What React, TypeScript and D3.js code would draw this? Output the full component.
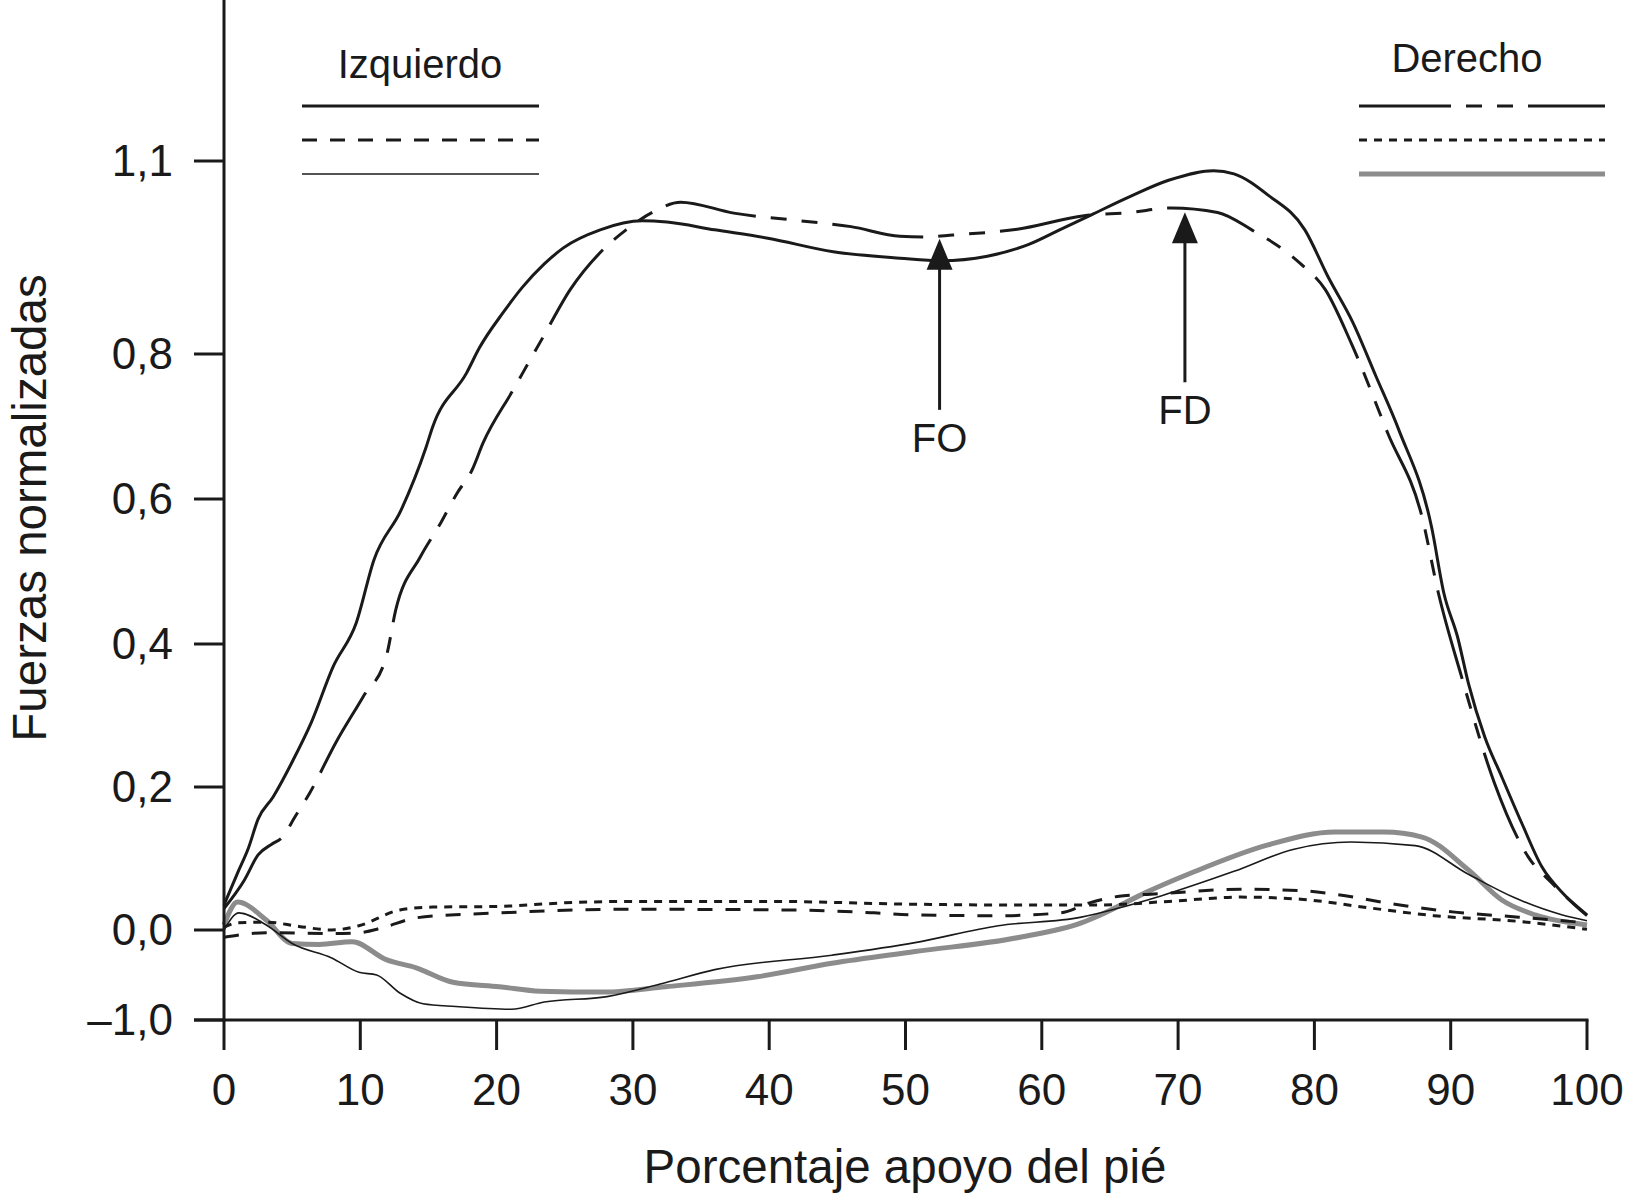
import React, { useMemo } from "react";
import * as d3 from "d3";

type Pt = [number, number];

// % of foot contact on x, normalised force on y
const izqTotal: Pt[] = [
  [0, 0.035], [1, 0.08], [1.8, 0.115], [2.5, 0.155], [3.6, 0.186], [5, 0.235],
  [6.4, 0.29], [8, 0.368], [9.7, 0.429], [11, 0.516], [13, 0.585], [14.8, 0.67],
  [15.3, 0.699], [17.8, 0.774], [18.75, 0.81], [20.5, 0.865], [21.9, 0.904],
  [23.5, 0.94], [24.9, 0.965], [27.6, 0.993], [30.7, 1.007], [32.5, 1.005],
  [36, 0.993], [39.9, 0.98], [44.7, 0.959], [49.6, 0.949], [52.6, 0.945],
  [56, 0.952], [59, 0.97], [61.5, 0.995], [63.6, 1.016], [66.5, 1.045],
  [69.3, 1.07], [72.6, 1.085], [74.1, 1.08], [76.6, 1.047], [79.3, 0.993],
  [81, 0.92], [82.8, 0.85], [84.5, 0.77], [86.2, 0.695], [88.6, 0.561],
  [89.5, 0.47], [90.5, 0.41], [91.3, 0.345], [92.5, 0.27], [93.75, 0.214],
  [95.2, 0.15], [96.7, 0.088], [98.3, 0.05], [100, 0.02],
];

const derTotal: Pt[] = [
  [0, 0.03], [1.5, 0.07], [2.5, 0.105], [3.5, 0.12], [4.3, 0.13], [5.2, 0.158],
  [6.3, 0.192], [8.2, 0.262], [10.2, 0.326], [11.9, 0.382], [12.6, 0.447],
  [14.4, 0.52], [15.9, 0.567], [17.1, 0.608], [18.2, 0.64], [19, 0.677],
  [21.2, 0.75], [23.4, 0.826], [25.4, 0.9], [27.8, 0.962], [29.5, 0.993],
  [31.5, 1.021], [33.5, 1.036], [37.4, 1.019], [42.3, 1.007], [46, 0.998],
  [49.6, 0.983], [51.3, 0.982], [53.5, 0.985], [58.2, 0.994], [63.1, 1.015],
  [66.5, 1.02], [69.5, 1.027], [72.9, 1.02], [75.4, 0.993], [79, 0.94],
  [80.8, 0.9], [82.7, 0.817], [85.4, 0.69], [87.9, 0.575], [89.1, 0.47],
  [90.8, 0.354], [93.2, 0.206], [95.7, 0.102], [97.4, 0.066], [100, 0.021],
];

const izqDashed: Pt[] = [
  [0, -0.008], [3.1, -0.003], [7.9, -0.004], [9.9, -0.003], [11.6, 0.003],
  [14.1, 0.017], [17.8, 0.022], [20.2, 0.024], [29.4, 0.029], [41.6, 0.028],
  [47.7, 0.024], [50.7, 0.021], [56.8, 0.02], [61.4, 0.024], [63.5, 0.038],
  [66, 0.048], [68, 0.05], [74.6, 0.057], [79, 0.055], [81.5, 0.05],
  [85.9, 0.036], [90.3, 0.025], [95, 0.018], [100, 0.01],
];

const derDotted: Pt[] = [
  [0, 0.004], [1, 0.01], [3.1, 0.011], [5.5, 0.005], [7.9, 0], [9.9, 0.006],
  [12.9, 0.028], [15.3, 0.032], [20.2, 0.033], [25, 0.038], [30, 0.04],
  [40, 0.04], [50.7, 0.036], [57, 0.035], [64.3, 0.035], [69.3, 0.04],
  [74.6, 0.046], [79, 0.043], [84, 0.031], [88.8, 0.02], [95, 0.012],
  [100, 0.001],
];

const izqThin: Pt[] = [
  [0, 0], [1.1, 0.024], [3.1, 0.007], [5, -0.015], [7.9, -0.031],
  [9.9, -0.047], [11.2, -0.05], [12.9, -0.07], [14.6, -0.082], [17, -0.085],
  [21.1, -0.088], [23.5, -0.08], [28.1, -0.074], [32, -0.06], [36, -0.044],
  [44.6, -0.028], [50.7, -0.014], [56.8, 0.006], [62.9, 0.018], [65.5, 0.03],
  [68.8, 0.048], [74.1, 0.082], [78.5, 0.113], [82.7, 0.123], [87.4, 0.118],
  [91.3, 0.078], [94.7, 0.045], [98.2, 0.021], [100, 0.013],
];

const derGrey: Pt[] = [
  [0, 0.007], [1, 0.039], [3.1, 0.014], [5, -0.015], [7, -0.016],
  [9.4, -0.013], [11.9, -0.033], [14.1, -0.042], [16.8, -0.058],
  [20.2, -0.063], [23.2, -0.068], [27.9, -0.069], [32.4, -0.063],
  [39.1, -0.052], [44.6, -0.037], [50.7, -0.024], [58.4, -0.008],
  [62.9, 0.01], [64.3, 0.021], [67.7, 0.053], [71, 0.08], [76.6, 0.119],
  [81.5, 0.137], [85.1, 0.137], [87.9, 0.13], [91.3, 0.084], [93.75, 0.042],
  [96.2, 0.021], [100, 0.007],
];

const xTicks = [0, 10, 20, 30, 40, 50, 60, 70, 80, 90, 100];
const yTickValues = [-0.1, 0, 0.2, 0.4, 0.6, 0.8, 1.1];
const yTickLabels = ["\u20131,0", "0,0", "0,2", "0,4", "0,6", "0,8", "1,1"];

// arrows: label, % position, value where the shaft ends
const arrowLabels = ["FO", "FD"];
const arrowX = [52.5, 70.5];
const arrowBase = [0.723, 0.761];

const INK = "#1a1a1a";
const GREY = "#8c8c8c";
const FONT = "'Liberation Sans', Arial, Helvetica, sans-serif";

interface Series {
  data: Pt[];
  stroke: string;
  width: number;
  dash?: string;
}

const S_IZQ_TOTAL: Series = { data: izqTotal, stroke: INK, width: 3 };
const S_IZQ_DASH: Series = { data: izqDashed, stroke: INK, width: 3, dash: "15,13" };
const S_IZQ_THIN: Series = { data: izqThin, stroke: INK, width: 1.6 };
const S_DER_TOTAL: Series = { data: derTotal, stroke: INK, width: 3, dash: "92,15,16,15,16,15" };
const S_DER_DOT: Series = { data: derDotted, stroke: INK, width: 3, dash: "8,7" };
const S_DER_GREY: Series = { data: derGrey, stroke: GREY, width: 5 };

const App: React.FC = () => {
  const width = 1625;
  const height = 1197;

  const x = useMemo(() => d3.scaleLinear().domain([0, 100]).range([224, 1587]), []);
  // the printed axis is not evenly spaced, so the scale is piecewise
  const y = useMemo(
    () => d3.scaleLinear().domain(yTickValues).range([1020, 930, 787, 644, 499, 354, 161]),
    []
  );

  const line = d3
    .line<Pt>()
    .x((d) => x(d[0]))
    .y((d) => y(d[1]))
    .curve(d3.curveMonotoneX);

  // where the right-foot total curve sits at a given %
  const derAt = d3
    .scaleLinear()
    .domain(derTotal.map((d) => d[0]))
    .range(derTotal.map((d) => d[1]));

  const drawOrder = [S_DER_GREY, S_IZQ_THIN, S_IZQ_DASH, S_DER_DOT, S_DER_TOTAL, S_IZQ_TOTAL];
  const legendLeft = [S_IZQ_TOTAL, S_IZQ_DASH, S_IZQ_THIN];
  const legendRight = [S_DER_TOTAL, S_DER_DOT, S_DER_GREY];
  const legendRows = [106, 140, 174];

  return (
    <>
      <style>{`body{margin:0}`}</style>
      <svg
        width={width}
        height={height}
        style={{ display: "block", background: "#fff" }}
        fontFamily={FONT}
      >
        {/* curves */}
        {drawOrder.map((s, i) => (
          <path
            key={`s-${i}`}
            d={line(s.data) || ""}
            fill="none"
            stroke={s.stroke}
            strokeWidth={s.width}
            strokeDasharray={s.dash}
            strokeLinejoin="round"
          />
        ))}

        {/* y axis */}
        <line x1={224} x2={224} y1={0} y2={1021.5} stroke={INK} strokeWidth={3} />
        {yTickValues.map((v, i) => (
          <g key={`yt-${i}`}>
            <line x1={194} x2={224} y1={y(v)} y2={y(v)} stroke={INK} strokeWidth={3} />
            <text
              x={173}
              y={y(v)}
              dy="0.33em"
              textAnchor="end"
              fontSize={44}
              fill={INK}
            >
              {yTickLabels[i]}
            </text>
          </g>
        ))}

        {/* x axis */}
        <line x1={194} x2={x(100) + 1.5} y1={1020} y2={1020} stroke={INK} strokeWidth={3} />
        {xTicks.map((t) => (
          <g key={`xt-${t}`}>
            <line x1={x(t)} x2={x(t)} y1={1020} y2={1050} stroke={INK} strokeWidth={3} />
            <text x={x(t)} y={1105} textAnchor="middle" fontSize={44} fill={INK}>
              {t}
            </text>
          </g>
        ))}

        {/* axis titles */}
        <text x={905} y={1183} textAnchor="middle" fontSize={47.5} fill={INK}>
          Porcentaje apoyo del pié
        </text>
        <text
          transform="translate(46,508) rotate(-90)"
          textAnchor="middle"
          fontSize={47.5}
          fill={INK}
        >
          Fuerzas normalizadas
        </text>

        {/* FO / FD arrows */}
        {arrowLabels.map((lab, i) => {
          const ax = x(arrowX[i]);
          const tip = y(derAt(arrowX[i])) + 3;
          const bottom = y(arrowBase[i]);
          return (
            <g key={`ar-${lab}`}>
              <line x1={ax} x2={ax} y1={tip + 20} y2={bottom} stroke={INK} strokeWidth={3} />
              <path
                d={`M${ax},${tip} L${ax - 13},${tip + 31} L${ax + 13},${tip + 31} Z`}
                fill={INK}
              />
              <text x={ax} y={bottom + 42} textAnchor="middle" fontSize={40} fill={INK}>
                {lab}
              </text>
            </g>
          );
        })}

        {/* legends */}
        <text x={420} y={78} textAnchor="middle" fontSize={40} fill={INK}>
          Izquierdo
        </text>
        {legendLeft.map((s, i) => (
          <line
            key={`ll-${i}`}
            x1={302}
            x2={539}
            y1={legendRows[i]}
            y2={legendRows[i]}
            stroke={s.stroke}
            strokeWidth={s.width}
            strokeDasharray={s.dash}
          />
        ))}
        <text x={1467} y={72} textAnchor="middle" fontSize={40} fill={INK}>
          Derecho
        </text>
        {legendRight.map((s, i) => (
          <line
            key={`lr-${i}`}
            x1={1359}
            x2={1605}
            y1={legendRows[i]}
            y2={legendRows[i]}
            stroke={s.stroke}
            strokeWidth={s.width}
            strokeDasharray={s.dash}
          />
        ))}
      </svg>
    </>
  );
};

export default App;
